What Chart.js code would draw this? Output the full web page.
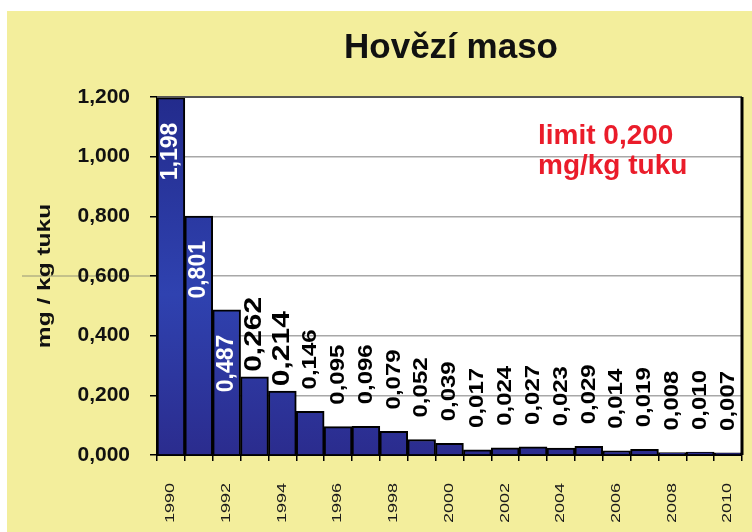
<!DOCTYPE html>
<html>
<head>
<meta charset="utf-8">
<script src="https://cdn.jsdelivr.net/npm/chart.js@4"></script>
<style>
  html, body { margin: 0; padding: 0; background: #fff; }
  #wrap { width: 752px; height: 532px; }
</style>
</head>
<body>
<div id="wrap"><canvas id="beefChart" width="752" height="532"></canvas></div>
<script>
// data
var years = ['1990', '1991', '1992', '1993', '1994', '1995', '1996', '1997', '1998', '1999', '2000',
             '2001', '2002', '2003', '2004', '2005', '2006', '2007', '2008', '2009', '2010'];
var values = [1.198, 0.801, 0.487, 0.262, 0.214, 0.146, 0.095, 0.096, 0.079, 0.052, 0.039,
              0.017, 0.024, 0.027, 0.023, 0.029, 0.014, 0.019, 0.008, 0.010, 0.007];
var shownYears = ['1990', '1992', '1994', '1996', '1998', '2000', '2002', '2004', '2006', '2008', '2010'];
var yMax = 1.2;
var yStep = 0.2;

var titleText = 'Hovězí maso';
var yTitleText = 'mg / kg tuku';
var limitLines = ['limit 0,200', 'mg/kg tuku'];

var FONT = "'Liberation Sans', Arial, sans-serif";
var INSIDE_COUNT = 3; // prvni tri popisky jsou uvnitr sloupcu

function fmt(v) {
    return v.toFixed(3).replace('.', ',');
}

// popisky, nadpisy a pozadi
var textPlugin = {
    id: 'texts',
    beforeDraw: function(chart) {
        var ctx = chart.ctx;
        var a = chart.chartArea;
        ctx.save();
        ctx.fillStyle = '#ffffff';
        ctx.fillRect(0, 0, chart.width, chart.height);
        ctx.fillStyle = '#f3ee9c';
        ctx.fillRect(7, 11, chart.width - 7, chart.height - 11);
        ctx.fillStyle = '#ffffff';
        ctx.fillRect(a.left, a.top, a.right - a.left, a.bottom - a.top);
        // seda cara u 0,600 presahujici doleva
        var y6 = chart.scales.y.getPixelForValue(0.6);
        ctx.strokeStyle = 'rgba(120,120,110,0.5)';
        ctx.lineWidth = 1.5;
        ctx.beginPath();
        ctx.moveTo(22, y6);
        ctx.lineTo(a.left, y6);
        ctx.stroke();
        ctx.restore();
    },
    afterDatasetsDraw: function(chart) {
        var ctx = chart.ctx;
        var meta = chart.getDatasetMeta(0);
        meta.data.forEach(function(bar, i) {
            var v = values[i];
            ctx.save();
            if (i < INSIDE_COUNT) {
                ctx.translate(bar.x, bar.y + 25);
                ctx.rotate(-Math.PI / 2);
                ctx.font = 'bold 23px ' + FONT;
                ctx.fillStyle = '#ffffff';
                ctx.textAlign = 'right';
            } else {
                var big = i < INSIDE_COUNT + 2;
                ctx.translate(bar.x, bar.y - (big ? 5 : 22));
                ctx.rotate(-Math.PI / 2);
                ctx.scale(1, big ? 0.78 : 0.88);
                ctx.font = 'bold ' + (big ? 30 : 24) + 'px ' + FONT;
                ctx.fillStyle = '#000000';
                ctx.textAlign = 'left';
            }
            ctx.textBaseline = 'middle';
            ctx.fillText(fmt(v), 0, 0);
            ctx.restore();
        });
    },
    afterDraw: function(chart) {
        var ctx = chart.ctx;
        var a = chart.chartArea;
        var xs = chart.scales.x;

        // horni a prava hrana plochy grafu
        ctx.save();
        ctx.strokeStyle = '#555555';
        ctx.lineWidth = 2;
        ctx.beginPath();
        ctx.moveTo(a.left, a.top);
        ctx.lineTo(a.right, a.top);
        ctx.stroke();
        ctx.strokeStyle = '#000000';
        ctx.lineWidth = 3;
        ctx.beginPath();
        ctx.moveTo(a.right, a.top);
        ctx.lineTo(a.right, a.bottom);
        ctx.stroke();
        ctx.restore();

        // nadpis
        ctx.save();
        ctx.font = 'bold 35px ' + FONT;
        ctx.fillStyle = '#111111';
        ctx.textAlign = 'center';
        ctx.textBaseline = 'alphabetic';
        ctx.fillText(titleText, 451, 58);
        ctx.restore();

        // popis osy y
        ctx.save();
        ctx.translate(50, 276);
        ctx.rotate(-Math.PI / 2);
        ctx.scale(1, 0.78);
        ctx.font = 'bold 24.5px ' + FONT;
        ctx.fillStyle = '#111111';
        ctx.textAlign = 'center';
        ctx.textBaseline = 'alphabetic';
        ctx.fillText(yTitleText, 0, 0);
        ctx.restore();

        // limit
        ctx.save();
        ctx.font = 'bold 28px ' + FONT;
        ctx.fillStyle = '#ea1c2a';
        ctx.textAlign = 'left';
        ctx.textBaseline = 'alphabetic';
        ctx.fillText(limitLines[0], 538, 144);
        ctx.fillText(limitLines[1], 538, 174);
        ctx.restore();

        // roky pod osou x
        years.forEach(function(yr, i) {
            if (shownYears.indexOf(yr) < 0) return;
            ctx.save();
            ctx.translate(xs.getPixelForValue(i), 483);
            ctx.rotate(-Math.PI / 2);
            ctx.scale(1, 0.68);
            ctx.font = '18px ' + FONT;
            ctx.fillStyle = '#1a1a1a';
            ctx.textAlign = 'right';
            ctx.textBaseline = 'middle';
            ctx.fillText(yr, 0, 0);
            ctx.restore();
        });
    }
};

function barFill(context) {
    var chartArea = context.chart.chartArea;
    if (!chartArea) return '#2c3aa0';
    var g = context.chart.ctx.createLinearGradient(0, chartArea.top, 0, chartArea.bottom);
    g.addColorStop(0, '#232b8c');
    g.addColorStop(0.55, '#2f42b0');
    g.addColorStop(1, '#2b2c8e');
    return g;
}

var ctx = document.getElementById('beefChart').getContext('2d');
var beefChart = new Chart(ctx, {
    type: 'bar',
    data: {
        labels: years,
        datasets: [{
            label: 'mg / kg tuku',
            data: values,
            backgroundColor: barFill,
            borderColor: '#000000',
            borderWidth: 2,
            barPercentage: 1,
            categoryPercentage: 1
        }]
    },
    options: {
        responsive: false,
        animation: false,
        layout: {
            padding: { left: 5, top: 97, right: 10, bottom: 0 }
        },
        plugins: {
            legend: { display: false },
            tooltip: { enabled: false },
            title: { display: false }
        },
        scales: {
            x: {
                offset: true,
                ticks: { display: false },
                grid: {
                    offset: true,
                    drawOnChartArea: false,
                    tickLength: 6,
                    tickColor: '#000000',
                    lineWidth: 1.5
                },
                border: { display: true, color: '#000000', width: 2 },
                afterFit: function(scale) { scale.height = 77; }
            },
            y: {
                min: 0,
                max: yMax,
                ticks: {
                    stepSize: yStep,
                    padding: 20,
                    color: '#111111',
                    font: { family: FONT, size: 21, weight: 'bold' },
                    callback: function(v) { return fmt(v); }
                },
                grid: {
                    color: '#a8a8a8',
                    lineWidth: 1.5,
                    tickLength: 7,
                    tickColor: '#000000'
                },
                border: { display: true, color: '#000000', width: 2 },
                afterFit: function(scale) { scale.width = 152; }
            }
        }
    },
    plugins: [textPlugin]
});
</script>
</body>
</html>
